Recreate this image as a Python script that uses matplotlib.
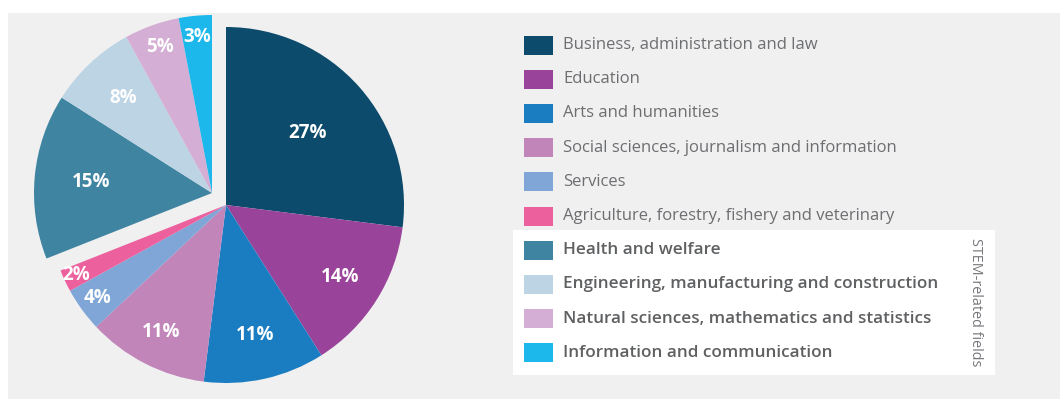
import numpy as np
import matplotlib
matplotlib.use("Agg")
import matplotlib.pyplot as plt
from matplotlib.patches import Rectangle

# Share of graduates by field of study (%)
fields = [
    "Business, administration and law",
    "Education",
    "Arts and humanities",
    "Social sciences, journalism and information",
    "Services",
    "Agriculture, forestry, fishery and veterinary",
    "Health and welfare",
    "Engineering, manufacturing and construction",
    "Natural sciences, mathematics and statistics",
    "Information and communication",
]
shares = [27, 14, 11, 11, 4, 2, 15, 8, 5, 3]
stem = [False, False, False, False, False, False, True, True, True, True]
colors = [
    "#0c4b6b", "#99449a", "#1a7dc2", "#c185ba", "#7fa6d7",
    "#ec609e", "#3f84a1", "#bcd4e3", "#d4aed4", "#1cb7eb",
]
stem_label = "STEM-related fields"

W, H = 1060, 399
fig = plt.figure(figsize=(W / 100, H / 100), dpi=100)
fig.patch.set_facecolor("white")
ax = fig.add_axes([0, 0, 1, 1])

# pie, STEM wedges pulled out together as one group
cx, cy, R = 226, H - 205, 178
group_shift = np.array([-14.0, 12.0])
wedges, _ = ax.pie(shares, colors=colors, startangle=90, counterclock=False,
                   center=(cx, cy), radius=R, frame=True,
                   wedgeprops=dict(linewidth=0, zorder=2))
ax.set_xlim(0, W)
ax.set_ylim(0, H)
ax.set_aspect("equal")
ax.axis("off")

# light grey panel
ax.add_patch(Rectangle((8, 0), W - 8, H - 13, facecolor="#f0f0f0",
                       edgecolor="none", zorder=0))

label_r = [0.61, 0.76, 0.75, 0.80, 0.89, 0.93, 0.68, 0.73, 0.87, 0.88]
for w, v, is_stem, lr in zip(wedges, shares, stem, label_r):
    c = np.array([cx, cy], dtype=float)
    if is_stem:
        c = c + group_shift
        w.set_center(tuple(c))
    mid = np.deg2rad((w.theta1 + w.theta2) / 2)
    ax.text(c[0] + lr * R * np.cos(mid), c[1] + lr * R * np.sin(mid),
            f"{v}%", color="white", fontsize=13.5, fontweight="bold",
            family="Open Sans", ha="center", va="center", zorder=5)

# white box behind the STEM group of the legend
ax.add_patch(Rectangle((513, H - 375), 482, 145, facecolor="white",
                       edgecolor="none", zorder=1))

row0, step = 45, 34.2
for i, (name, col, is_stem) in enumerate(zip(fields, colors, stem)):
    yc = H - (row0 + i * step)
    ax.add_patch(Rectangle((524, yc - 9.5), 29, 19, facecolor=col,
                           edgecolor="none", zorder=2))
    ax.text(563, yc, name, fontsize=12.3 if is_stem else 12,
            family="Open Sans",
            fontweight="semibold" if is_stem else "normal",
            color="#5f6062" if is_stem else "#6d6e71",
            ha="left", va="center", zorder=3)

ax.text(976, H - 302, stem_label, rotation=-90, fontsize=10.4,
        family="Open Sans", color="#77787b", ha="center", va="center",
        zorder=3)

fig.savefig("out.png", dpi=100, facecolor=fig.get_facecolor())
